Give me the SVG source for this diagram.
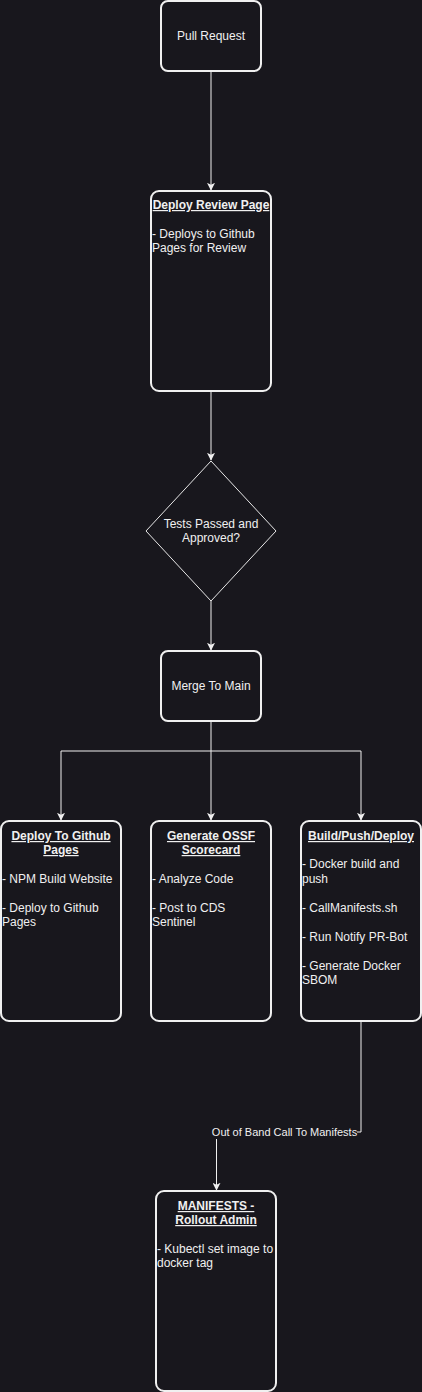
<svg xmlns="http://www.w3.org/2000/svg" width="422" height="1392" viewBox="0 0 422 1392">
<defs>
<style>
.node{fill:#18171d;stroke:#f0f0f0;stroke-width:2}
.dia{fill:#18171d;stroke:#e8e8e8;stroke-width:1}
.edge{fill:none;stroke:#f0f0f0;stroke-width:1}
text{font-family:"Liberation Sans",Arial,Helvetica,sans-serif;font-size:12px;fill:#f0f0f0}
.c{text-anchor:middle}
.t{font-weight:bold;text-decoration:underline;text-anchor:middle}
.lbl{font-size:11px;text-anchor:middle}
</style>
<marker id="arr" viewBox="0 0 10 10" refX="9" refY="5" markerWidth="8" markerHeight="8" markerUnits="userSpaceOnUse" orient="auto">
<path d="M0,0 L10,5 L0,10 L2.5,5 Z" fill="#f0f0f0"/>
</marker>
</defs>
<rect width="422" height="1392" fill="#18171d"/>
<g id="connectors">
<path class="edge" d="M211,71 V190" marker-end="url(#arr)"/>
<path class="edge" d="M211,391 V460" marker-end="url(#arr)"/>
<path class="edge" d="M211,601 V650" marker-end="url(#arr)"/>
<path class="edge" d="M211,721 V820" marker-end="url(#arr)"/>
<path class="edge" d="M211,751 H61 V820" marker-end="url(#arr)"/>
<path class="edge" d="M211,751 H361 V820" marker-end="url(#arr)"/>
<path class="edge" d="M361,1021 V1132 H216.5 V1190" marker-end="url(#arr)"/>
<rect x="212" y="1125" width="145" height="14" fill="#18171d"/>
<text class="lbl" x="284.5" y="1136">Out of Band Call To Manifests</text>
</g>
<g id="pull-request">
<rect class="node" x="161" y="1" width="100" height="70" rx="7"/>
<text class="c" x="211" y="40">Pull Request</text>
</g>
<g id="deploy-review">
<rect class="node" x="151" y="191" width="120" height="200" rx="8"/>
<text class="t" x="211" y="209">Deploy Review Page</text>
<text x="152" y="238">- Deploys to Github</text>
<text x="152" y="252">Pages for Review</text>
</g>
<g id="tests-passed">
<path class="dia" d="M211,461 L276,531 L211,601 L146,531 Z"/>
<text class="c" x="211" y="528">Tests Passed and</text>
<text class="c" x="211" y="542">Approved?</text>
</g>
<g id="merge-main">
<rect class="node" x="161" y="651" width="100" height="70" rx="7"/>
<text class="c" x="211" y="690">Merge To Main</text>
</g>
<g id="deploy-gh-pages">
<rect class="node" x="1" y="821" width="120" height="200" rx="8"/>
<text class="t" x="61" y="840">Deploy To Github</text>
<text class="t" x="61" y="854">Pages</text>
<text x="2" y="883">- NPM Build Website</text>
<text x="2" y="912">- Deploy to Github</text>
<text x="2" y="926">Pages</text>
</g>
<g id="ossf">
<rect class="node" x="151" y="821" width="120" height="200" rx="8"/>
<text class="t" x="211" y="840">Generate OSSF</text>
<text class="t" x="211" y="854">Scorecard</text>
<text x="152" y="883">- Analyze Code</text>
<text x="152" y="912">- Post to CDS</text>
<text x="152" y="926">Sentinel</text>
</g>
<g id="build-push-deploy">
<rect class="node" x="301" y="821" width="120" height="200" rx="8"/>
<text class="t" x="361" y="840">Build/Push/Deploy</text>
<text x="302" y="868">- Docker build and</text>
<text x="302" y="883">push</text>
<text x="302" y="912">- CallManifests.sh</text>
<text x="302" y="941">- Run Notify PR-Bot</text>
<text x="302" y="970">- Generate Docker</text>
<text x="302" y="984">SBOM</text>
</g>
<g id="manifests">
<rect class="node" x="156" y="1191" width="120" height="200" rx="8"/>
<text class="t" x="216" y="1210">MANIFESTS -</text>
<text class="t" x="216" y="1224">Rollout Admin</text>
<text x="157" y="1253">- Kubectl set image to</text>
<text x="157" y="1267">docker tag</text>
</g>
</svg>
